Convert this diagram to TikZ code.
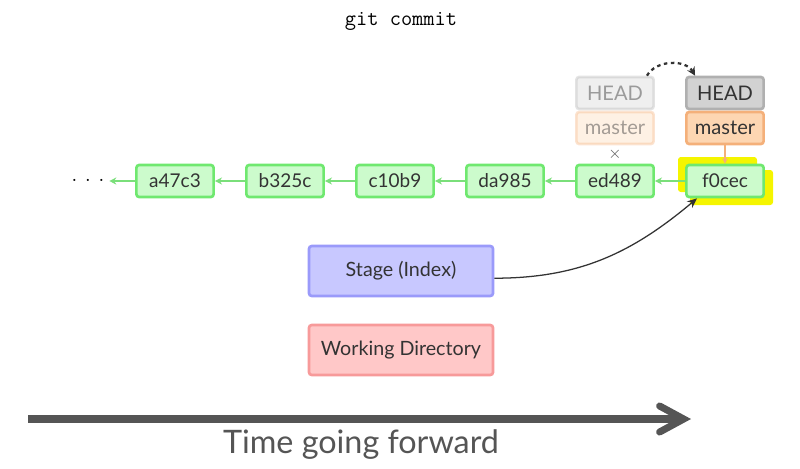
\documentclass[tikz,border=0pt]{standalone}
\usepackage{fontspec}
\setmainfont{Lato}
\usetikzlibrary{arrows.meta}
\definecolor{commitfill}{HTML}{CCFBCC}
\definecolor{commitedge}{HTML}{6FE86F}
\definecolor{commitarrow}{HTML}{7ADF7A}
\definecolor{headfill}{HTML}{D2D2D2}
\definecolor{headedge}{HTML}{B0B0B0}
\definecolor{masterfill}{HTML}{FDD6B2}
\definecolor{masteredge}{HTML}{F4B07A}
\definecolor{stagefill}{HTML}{C8C8FF}
\definecolor{stageedge}{HTML}{9A9AFA}
\definecolor{workfill}{HTML}{FFC8C8}
\definecolor{workedge}{HTML}{F79A9A}
\definecolor{marker}{HTML}{F5F500}
\definecolor{textgray}{HTML}{333333}
\definecolor{timegray}{HTML}{555555}
\begin{document}
\begin{tikzpicture}[x=0.025cm,y=0.025cm,
    box/.style={line width=1.9pt, rounded corners=2pt, minimum width=1.93cm,
        minimum height=0.8cm, inner sep=0pt, text=textgray,
        font=\fontsize{13.5}{15}\selectfont},
    commit/.style={box, draw=commitedge, fill=commitfill},
    headbox/.style={box, draw=headedge, fill=headfill, font=\fontsize{14.3}{16}\selectfont},
    masterbox/.style={box, draw=masteredge, fill=masterfill, font=\fontsize{14.3}{16}\selectfont},
    faded/.style={opacity=0.35, text opacity=0.45},
    area/.style={box, minimum width=4.6cm, minimum height=1.25cm, font=\fontsize{14}{16}\selectfont},
    parent/.style={draw=commitarrow, line width=1pt, -{Stealth[length=5pt,width=5pt]}},
]
    \useasboundingbox (0,0) rectangle (800,-468);
    \node[font=\ttfamily\fontsize{15.5}{17}\selectfont] (title) at (401,-21) {git commit};
    % yellow marker behind the new commit
    \fill[marker, rounded corners=2pt] (678,-157) rectangle (757,-192);
    \fill[marker, rounded corners=2pt] (690,-170) rectangle (773,-205);
    \node[commit] (a47c3) at (175,-181) {a47c3};
    \node[commit] (b325c) at (285,-181) {b325c};
    \node[commit] (c10b9) at (395,-181) {c10b9};
    \node[commit] (da985) at (505,-181) {da985};
    \node[commit] (ed489) at (615,-181) {ed489};
    \node[commit] (f0cec) at (725,-181) {f0cec};
    \node[text=black, font=\Large] (dots) at (88,-181) {$\cdot\,\cdot\,\cdot$};
    \draw[parent] (a47c3) -- (dots);
    \draw[parent] (b325c) -- (a47c3);
    \draw[parent] (c10b9) -- (b325c);
    \draw[parent] (da985) -- (c10b9);
    \draw[parent] (ed489) -- (da985);
    \draw[parent] (f0cec) -- (ed489);
    % old refs
    \node[headbox, faded] (oldhead) at (615,-93) {HEAD};
    \node[masterbox, faded] (oldmaster) at (615,-128) {master};
    \node[text=timegray, font=\large] (gone) at (615,-154) {$\times$};
    % new refs
    \node[headbox] (head) at (725,-93) {HEAD};
    \node[masterbox] (master) at (725,-128) {master};
    \draw[draw=masteredge, line width=0.8pt, -{Stealth[length=4pt,width=4pt]}] (master) -- (f0cec);
    \draw[textgray, line width=1.6pt, dash pattern=on 2.5pt off 2.5pt, -{Stealth[length=6pt,width=6pt]}]
        ([xshift=-0.2cm]oldhead.north east) to[out=60,in=120] ([xshift=0.25cm]head.north west);
    % areas
    \node[area, draw=stageedge, fill=stagefill] (stage) at (401,-271) {Stage (Index)};
    \node[area, draw=workedge, fill=workfill] (workdir) at (401,-350) {Working Directory};
    \draw[textgray, line width=0.9pt, -{Stealth[length=7pt,width=6pt]}]
        ([yshift=-0.18cm]stage.east) to[out=0,in=220] ([xshift=0.3cm]f0cec.south west);
    % time line
    \coordinate (tstart) at (28,-419);
    \coordinate (tend) at (691,-419);
    \draw[timegray, line width=5pt, line join=round, line cap=butt,
        -{Straight Barb[length=0.6cm,width=0.65cm,line cap=round]}] (tstart) -- (tend);
    \node[text=timegray, font=\fontsize{23}{26}\selectfont] (time) at (361,-445) {Time going forward};
\end{tikzpicture}
\end{document}
